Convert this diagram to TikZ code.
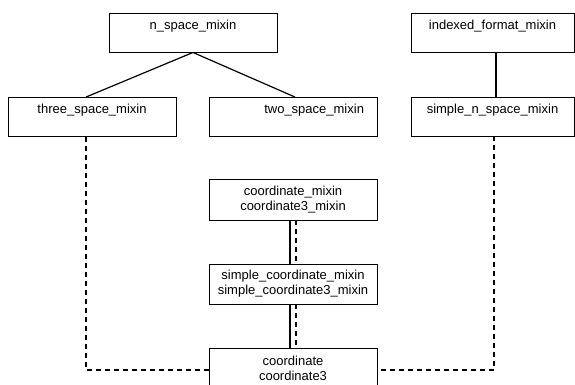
\documentclass[tikz,border=0pt]{standalone}
\usepackage{fontspec}
\setmainfont{Liberation Sans}
\begin{document}
\begin{tikzpicture}[x=1pt,y=-1pt,
  every node/.style={font=\fontsize{13}{15}\selectfont},
  topbox/.style={draw,line width=0.9pt,rectangle,minimum width=#1,inner xsep=4pt,inner ysep=4pt,
     text height=12pt,text depth=19pt,align=center},
  twobox/.style={draw,line width=0.9pt,rectangle,minimum width=168pt,minimum height=#1,inner sep=3pt,align=center},
  link/.style={line width=1.2pt},
  dlink/.style={line width=1.1pt,dash pattern=on 5pt off 4pt}]
\useasboundingbox (0,0) rectangle (575,384);
\node[topbox=168pt] (nspace) at (193,32.5) {n\_space\_mixin};
\node[topbox=163pt] (indexed) at (492.5,32.5) {indexed\_format\_mixin};
\node[topbox=168pt] (three) at (92,117) {three\_space\_mixin};
\node[topbox=168pt,text width=142pt,inner xsep=13pt,align=right] (two) at (293,117) {two\_space\_mixin};
\node[topbox=163pt] (simplen) at (492.5,116.5) {simple\_n\_space\_mixin};
\node[twobox=41pt] (cmixin) at (293,199.5) {coordinate\_mixin\\coordinate3\_mixin};
\node[twobox=40pt] (scmixin) at (293,284) {simple\_coordinate\_mixin\\simple\_coordinate3\_mixin};
\node[twobox=41pt] (coord) at (293,368.5) {coordinate\\coordinate3};
\draw[link] (nspace.south) -- ([xshift=-6pt]three.north);
\draw[link] (nspace.south) -- ([xshift=2pt]two.north);
\draw[link] ([xshift=3.5pt]indexed.south) -- ([xshift=3.5pt]simplen.north);
\draw[link] ([xshift=-3pt]cmixin.south) -- ([xshift=-3pt]scmixin.north);
\draw[dlink] ([xshift=3pt]cmixin.south) -- ([xshift=3pt]scmixin.north);
\draw[link] ([xshift=-3pt]scmixin.south) -- ([xshift=-3pt]coord.north);
\draw[dlink] ([xshift=3pt]scmixin.south) -- ([xshift=3pt]coord.north);
\draw[dlink] ([xshift=-6pt]three.south) |- ([yshift=-1.5pt]coord.west);
\draw[dlink] ([xshift=1.5pt]simplen.south) |- ([yshift=-1.5pt]coord.east);
\end{tikzpicture}
\end{document}
